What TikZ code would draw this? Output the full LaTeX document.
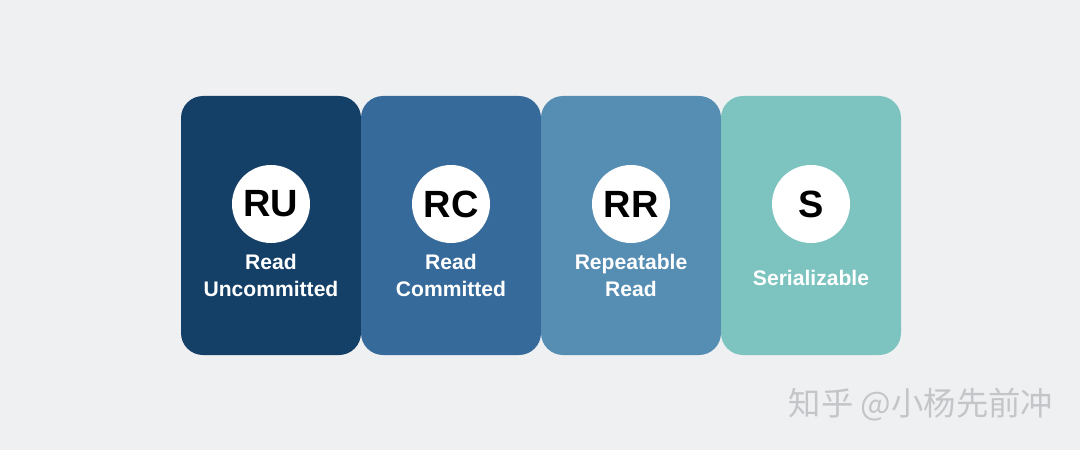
\documentclass[tikz,border=0pt]{standalone}
\usepackage{fontspec}
\setmainfont{Liberation Sans}
\newfontfamily\cjk{Noto Sans CJK SC}
\usepackage{tikz}
\definecolor{pagegray}{HTML}{EFF0F2}
\definecolor{levelone}{HTML}{143F66}
\definecolor{leveltwo}{HTML}{366A9A}
\definecolor{levelthree}{HTML}{568DB3}
\definecolor{levelfour}{HTML}{7DC4C0}
\definecolor{markgray}{HTML}{C4C5C8}

\begin{document}
\begin{tikzpicture}
      % Niveaux d'isolation, de gauche a droite
      % Styles
      \tikzstyle{level} = [rectangle, rounded corners=0.55cm, inner sep=0pt, minimum width=4.5cm, minimum height=6.475cm]
      \tikzstyle{badge} = [circle, fill=white, inner sep=0pt, minimum size=1.95cm, text=black, font=\fontsize{27}{30}\selectfont\bfseries]
      \tikzstyle{caption} = [align=center, inner sep=0pt, text=white, font=\fontsize{15}{19.2}\selectfont\bfseries]

      % Fond
      \fill[pagegray] (0, 0) rectangle (27, 11.25);
      \useasboundingbox (0, 0) rectangle (27, 11.25);

      % Read Uncommitted
      \node[level, fill=levelone] (ru) at (6.775, 5.6125) {};
      \node[badge] (rub) at (6.775, 6.15) {RU};
      \node[caption] (rut) at (6.775, 4.36) {Read\\Uncommitted};

      % Read Committed
      \node[level, fill=leveltwo] (rc) at (11.275, 5.6125) {};
      \node[badge] (rcb) at (11.275, 6.15) {RC};
      \node[caption] (rct) at (11.275, 4.36) {Read\\Committed};

      % Repeatable Read
      \node[level, fill=levelthree] (rr) at (15.775, 5.6125) {};
      \node[badge] (rrb) at (15.775, 6.15) {RR};
      \node[caption] (rrt) at (15.775, 4.36) {Repeatable\\Read};

      % Serializable
      \node[level, fill=levelfour] (s) at (20.275, 5.6125) {};
      \node[badge] (sb) at (20.275, 6.15) {S};
      \node[caption] (st) at (20.275, 4.3) {Serializable};

      % Filigrane
      \node[text=markgray, font=\cjk\fontsize{23}{27}\selectfont] (mark) at (23.025, 1.125) {知乎 @小杨先前冲};

    \end{tikzpicture}
\end{document}
